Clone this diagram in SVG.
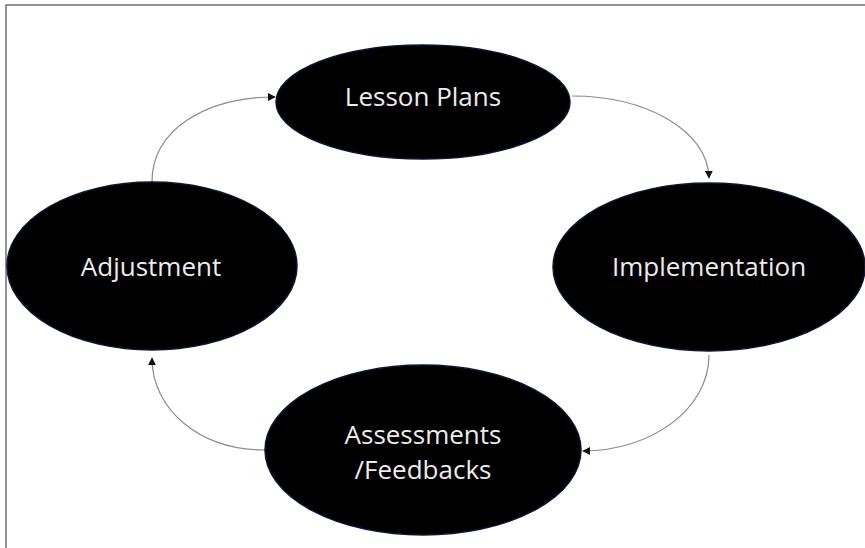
<svg xmlns="http://www.w3.org/2000/svg" width="865" height="548" viewBox="0 0 865 548">
<defs>
<style>
.node ellipse{fill:#000;stroke:#0b1633;stroke-width:1.5}
.node text{fill:#ececec;font-family:"Open Sans","Liberation Sans",sans-serif;font-size:26px;text-anchor:middle}
.conn path{fill:none;stroke:#8a8a8a;stroke-width:1.2;marker-end:url(#arr)}
</style>
<marker id="arr" viewBox="0 0 10 10" refX="9" refY="5" markerWidth="8" markerHeight="8" markerUnits="userSpaceOnUse" orient="auto">
<path d="M0,0 L10,5 L0,10 z" fill="#111"/>
</marker>
</defs>
<rect width="865" height="548" fill="#fff"/>
<path d="M6,548 V5 H865" fill="none" stroke="#707070" stroke-width="1.5"/>
<g class="conn" id="connectors">
<path d="M152,182 C152,130 205,97 275,97"/>
<path d="M572,96 C645,96 708,130 709,178"/>
<path d="M709,355 C709,410 650,451 583,451"/>
<path d="M265,450 C200,450 152,410 152,358"/>
</g>
<g class="node" id="lesson-plans">
<ellipse cx="423" cy="102" rx="147" ry="57"/>
<text x="423" y="106">Lesson Plans</text>
</g>
<g class="node" id="implementation">
<ellipse cx="709" cy="267" rx="156" ry="84"/>
<text x="709" y="276">Implementation</text>
</g>
<g class="node" id="adjustment">
<ellipse cx="152" cy="266" rx="145" ry="84"/>
<text x="151" y="276">Adjustment</text>
</g>
<g class="node" id="assessments">
<ellipse cx="423" cy="450" rx="158" ry="85"/>
<text x="423" y="444">Assessments</text>
<text x="423" y="479">/Feedbacks</text>
</g>
</svg>
